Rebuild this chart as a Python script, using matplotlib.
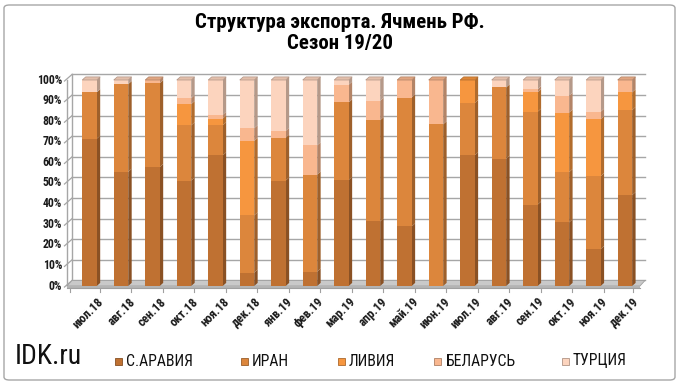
import matplotlib
matplotlib.use("Agg")
import matplotlib.pyplot as plt
import numpy as np
from matplotlib import font_manager
from matplotlib.patches import FancyBboxPatch, Rectangle

def pick(fams):
    for f in fams:
        try:
            font_manager.findfont(f, fallback_to_default=False)
            return f
        except Exception:
            pass
    return "DejaVu Sans"

NARROW = pick(["Liberation Sans Narrow", "Roboto Condensed", "Liberation Sans"])
plt.rcParams['font.family'] = [NARROW, 'DejaVu Sans']

# ---- data ----
months = ['июл.18', 'авг.18', 'сен.18', 'окт.18', 'ноя.18', 'дек.18', 'янв.19', 'фев.19',
          'мар.19', 'апр.19', 'май.19', 'июн.19', 'июл.19', 'авг.19', 'сен.19', 'окт.19',
          'ноя.19', 'дек.19']
series_names = ['С.АРАВИЯ', 'ИРАН', 'ЛИВИЯ', 'БЕЛАРУСЬ', 'ТУРЦИЯ']
saudi   = [71.5, 55.4, 57.7, 51.2, 63.4, 6.5, 51.2, 7.0, 51.5, 31.4, 28.9, 0.0, 63.4, 61.8, 39.5, 30.9, 17.9, 44.1]
iran    = [22.5, 42.6, 40.7, 26.8, 14.6, 27.8, 20.8, 47.1, 37.6, 49.1, 62.6, 78.5, 25.4, 34.6, 45.1, 24.4, 35.4, 41.3]
libya   = [0.0, 0.0, 0.0, 10.3, 3.3, 36.1, 0.0, 0.0, 0.0, 0.0, 0.0, 0.0, 11.2, 0.0, 9.4, 28.9, 27.7, 8.6]
belarus = [0.0, 0.0, 1.6, 2.9, 1.8, 6.2, 3.3, 14.2, 8.6, 9.4, 8.5, 21.5, 0.0, 0.0, 1.5, 8.2, 3.6, 6.0]
turkey  = [6.0, 2.0, 0.0, 8.8, 16.9, 23.4, 24.7, 31.7, 2.3, 10.1, 0.0, 0.0, 0.0, 3.6, 4.5, 7.6, 15.4, 0.0]
yticks = [0, 10, 20, 30, 40, 50, 60, 70, 80, 90, 100]

colors = ['#BF7132', '#DC863C', '#F6963F', '#F9B78F', '#FCD4BE']

def shade(c, f):
    r, g, b = matplotlib.colors.to_rgb(c)
    return (r * f, g * f, b * f)

W, H = 680, 384
fig = plt.figure(figsize=(W / 100, H / 100), dpi=100)

# outer frame
fig.patches.append(FancyBboxPatch((4 / W, 4 / H), 1 - 9 / W, 1 - 9 / H,
                                  boxstyle="round,pad=0,rounding_size=0.008",
                                  transform=fig.transFigure, fill=False,
                                  edgecolor='#A6A6A6', lw=1.0))

x0_px, x1_px = 67, 640
y0_px, y1_px = 286, 80
ax = fig.add_axes([x0_px / W, 1 - y0_px / H, (x1_px - x0_px) / W, (y0_px - y1_px) / H])
xmin, xmax = -0.714, 17.48
ax.set_xlim(xmin, xmax)
ax.set_ylim(0, 100)
ax.axis('off')

# 3D geometry
wdx, wdy = 0.16, 2.7    # wall depth
bw, bdx, bdy = 0.46, 0.11, 1.5  # bar width / depth

# back wall gridlines and left wall
for v in yticks:
    ax.plot([xmin + wdx, xmax + wdx], [v + wdy, v + wdy], color='#A6A6A6', lw=1.0,
            clip_on=False, zorder=1)
    ax.plot([xmin - 0.08, xmin + wdx], [v - 0.5, v + wdy], color='#A6A6A6', lw=0.9,
            clip_on=False, zorder=1)
    ax.text(xmin - 0.16, v, f'{v}%', ha='right', va='center', fontsize=8.5,
            fontweight='bold', color='#1a1a1a')
ax.plot([xmin, xmin], [0, 100], color='#A6A6A6', lw=1.0, clip_on=False, zorder=1)
ax.plot([xmin + wdx, xmin + wdx], [wdy, 100 + wdy], color='#A6A6A6', lw=1.0,
        clip_on=False, zorder=1)

# floor
ax.fill([xmin, xmax, xmax + wdx, xmin + wdx], [0, 0, wdy, wdy], color='#C9C9C9',
        ec='#A0A0A0', lw=0.6, clip_on=False, zorder=2)
ax.fill([xmin, xmax, xmax, xmin], [-0.9, -0.9, 0, 0], color='#B4B4B4', lw=0,
        clip_on=False, zorder=2)
ax.plot([xmin, xmax], [-0.9, -0.9], color='#A0A0A0', lw=0.8, clip_on=False, zorder=2)
# category tick marks
for t in [xmin + 0.09] + [i + 0.33 for i in range(len(months) - 1)] + [xmax - 0.23]:
    ax.plot([t, t], [-1.0, -3.0], color='#A0A0A0', lw=0.8, clip_on=False, zorder=2)

# stacked bars
data = [saudi, iran, libya, belarus, turkey]
x = np.arange(len(months))
bottom = np.zeros(len(months))
for vals, c in zip(data, colors):
    vals = np.array(vals)
    ax.bar(x, vals, width=bw, bottom=bottom, color=c, edgecolor='none', zorder=5)
    for i in range(len(months)):
        if vals[i] <= 0:
            continue
        b, t = bottom[i], bottom[i] + vals[i]
        xr = x[i] + bw / 2
        ax.fill([xr, xr + bdx, xr + bdx, xr], [b, b + bdy, t + bdy, t],
                color=shade(c, 0.72), lw=0, zorder=4, clip_on=False)
    bottom = bottom + vals

# top faces
for i in range(len(months)):
    top_idx = max(k for k in range(len(data)) if data[k][i] > 0)
    c = colors[top_idx]
    tt = bottom[i]
    xl, xr = x[i] - bw / 2, x[i] + bw / 2
    ax.fill([xl, xr, xr + bdx, xl + bdx], [tt, tt, tt + bdy, tt + bdy],
            color=shade(c, 0.9), ec=shade(c, 0.7), lw=0.5, zorder=6, clip_on=False)

# x labels
for i, m in enumerate(months):
    ax.text(x[i] + 0.24, -4.5, m, rotation=45, ha='right', va='top',
            rotation_mode='anchor', fontsize=9, fontweight='bold', color='#1a1a1a')

# title
fig.text(340 / W, 1 - 22 / H, 'Структура экспорта. Ячмень РФ.', ha='center', va='center',
         fontsize=15, fontweight='bold')
fig.text(340 / W, 1 - 43 / H, 'Сезон 19/20', ha='center', va='center',
         fontsize=15, fontweight='bold')

# watermark
fig.text(15 / W, 1 - 357 / H, 'IDK.ru', ha='left', va='center', fontsize=20, color='#111111')

# legend
leg_x = [118, 244, 341, 438, 565]
for xp, name, c in zip(leg_x, series_names, colors):
    fig.patches.append(Rectangle(((xp - 3.5) / W, 1 - 364.5 / H), 7 / W, 7 / H,
                                 transform=fig.transFigure, facecolor=c,
                                 edgecolor=shade(c, 0.7), lw=0.6))
    fig.text((xp + 8) / W, 1 - 361 / H, name, ha='left', va='center', fontsize=11.3,
             color='#111111')

fig.savefig('out.png', dpi=100)
